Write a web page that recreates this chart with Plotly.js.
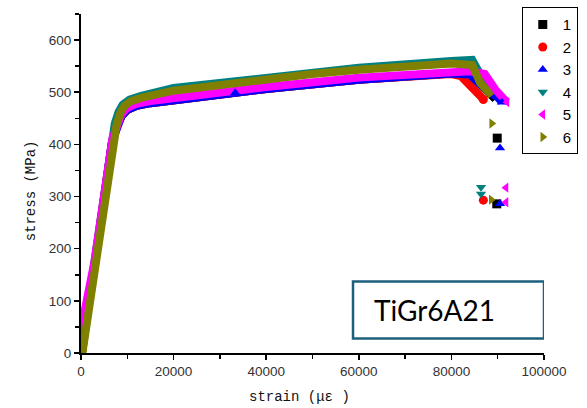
<!DOCTYPE html>
<html>
<head>
<meta charset="utf-8">
<script src="https://cdn.plot.ly/plotly-3.0.1.min.js"></script>
<style>html,body{margin:0;padding:0;background:#fff;}#chart{width:587px;height:408px;}</style>
</head>
<body>
<div id="chart"></div>
<script>
// Series names, colours and symbols
const seriesNames = ["1", "2", "3", "4", "5", "6"];
const seriesColors = ["#000000", "#ff0000", "#0000ff", "#008080", "#ff00ff", "#808000"];
const seriesSymbols = ["square", "circle", "triangle-up", "triangle-down", "triangle-left", "triangle-right"];

// Dense curve data (strain in με, stress in MPa)
const strain1 = [200, 2700, 6700, 7900, 8800, 10000, 12000, 15000, 20000, 40000, 60000, 80000, 84000, 87500, 89500];
const stress1 = [0, 150, 405, 438, 455, 466, 474, 479, 485, 506, 524, 536, 534, 505, 487];
const strain2 = [200, 2700, 6700, 7900, 8800, 10000, 12000, 15000, 20000, 40000, 60000, 80000, 82000, 84500, 86000, 86900];
const stress2 = [0, 150, 405, 438, 455, 466, 474, 479, 485, 506, 524, 535, 531, 505, 495, 486];
const strain3 = [0, 2700, 6700, 7900, 8800, 10000, 12000, 15000, 20000, 40000, 60000, 80000, 84000, 87500, 90000, 90900];
const stress3 = [20, 152, 405, 438, 455, 466, 474, 479, 485, 506, 524, 536, 534, 505, 490, 481];
const strain4 = [0, 2500, 6400, 7300, 8100, 9000, 10500, 13000, 20000, 40000, 60000, 80000, 84500, 86500, 87500];
const stress4 = [0, 150, 400, 440, 462, 476, 486, 493, 508, 528, 547, 560, 562, 530, 505];
const strain5 = [0, 2900, 6750, 7900, 8800, 10000, 12000, 15000, 20000, 40000, 60000, 80000, 84000, 87200, 89500, 92000];
const stress5 = [45, 175, 410, 442, 459, 470, 478, 483, 489, 510, 528, 539, 540, 535, 505, 481];
const strain6 = [300, 2800, 6700, 7700, 8500, 9400, 10800, 13000, 20000, 30000, 40000, 50000, 60000, 70000, 80000, 84500, 86200, 88300];
const stress6 = [0, 150, 400, 438, 460, 474, 483, 489, 503, 514, 524, 535, 543, 549, 555, 552, 518, 497];

// Isolated (fracture) points
const ptStrain1 = [89900, 89800];
const ptStress1 = [412, 286];
const ptStrain2 = [86900, 86900];
const ptStress2 = [486, 293];
const ptStrain3 = [90500, 90500, 33300, 90900];
const ptStress3 = [393, 286, 499, 481];
const ptStrain4 = [86400, 86400];
const ptStress4 = [318, 305];
const ptStrain5 = [91800, 91800, 92000];
const ptStress5 = [317, 289, 481];
const ptStrain6 = [88700, 88600, 88300];
const ptStress6 = [440, 294, 497];

// Axis ticks
const xTickVals = [0, 20000, 40000, 60000, 80000, 100000];
const xTickText = ["0", "20000", "40000", "60000", "80000", "100000"];
const yTickVals = [0, 100, 200, 300, 400, 500, 600];
const yTickText = ["0", "100", "200", "300", "400", "500", "600"];

const labelText = "TiGr6A21";
const xTitle = "strain (με )";
const yTitle = "stress (MPa)";

const curveX = [strain1, strain2, strain3, strain4, strain5, strain6];
const curveY = [stress1, stress2, stress3, stress4, stress5, stress6];
const ptX = [ptStrain1, ptStrain2, ptStrain3, ptStrain4, ptStrain5, ptStrain6];
const ptY = [ptStress1, ptStress2, ptStress3, ptStress4, ptStress5, ptStress6];

const traces = [];
for (let i = 0; i < 6; i++) {
  traces.push({
    x: curveX[i], y: curveY[i], type: "scatter", mode: "lines",
    line: {color: seriesColors[i], width: 8},
    showlegend: false, hoverinfo: "skip", legendgroup: "g" + i
  });
}
for (let i = 0; i < 6; i++) {
  traces.push({
    x: ptX[i], y: ptY[i], type: "scatter", mode: "markers", name: seriesNames[i],
    marker: {color: seriesColors[i], symbol: seriesSymbols[i], size: 9},
    legendgroup: "g" + i
  });
}

const axisFont = {family: "Liberation Sans, Arial, sans-serif", size: 13.5, color: "#333"};

const layout = {
  width: 587, height: 408,
  margin: {l: 81, r: 43, t: 7, b: 55},
  paper_bgcolor: "#fff", plot_bgcolor: "#fff",
  xaxis: {
    range: [0, 100000], tickvals: xTickVals, ticktext: xTickText,
    showgrid: false, zeroline: false, showline: true, linecolor: "#000", linewidth: 2,
    ticks: "outside", ticklen: 5, tickwidth: 1.5, tickcolor: "#000", tickfont: axisFont,
    minor: {dtick: 10000, tick0: 0, ticks: "outside", ticklen: 4, tickwidth: 1.5, tickcolor: "#000", showgrid: false}
  },
  yaxis: {
    range: [0, 650], tickvals: yTickVals, ticktext: yTickText,
    showgrid: false, zeroline: false, showline: true, linecolor: "#000", linewidth: 2,
    ticks: "outside", ticklen: 5, tickwidth: 1.5, tickcolor: "#000", tickfont: axisFont,
    minor: {dtick: 50, tick0: 0, ticks: "outside", ticklen: 4, tickwidth: 1.5, tickcolor: "#000", showgrid: false}
  },
  legend: {
    x: 0.952, y: 1.02, xanchor: "left", yanchor: "top",
    bordercolor: "#000", borderwidth: 1, bgcolor: "#fff",
    font: {family: "Liberation Sans, Arial, sans-serif", size: 15, color: "#000"},
    itemwidth: 30, tracegroupgap: 0
  },
  shapes: [{
    type: "rect", xref: "x", yref: "y", x0: 58750, x1: 100000, y0: 28, y1: 137,
    line: {color: "#1d5f7c", width: 2.5}, fillcolor: "rgba(0,0,0,0)"
  }],
  annotations: [
    {text: labelText, xref: "x", yref: "y", x: 62800, y: 82, xanchor: "left", yanchor: "middle",
     showarrow: false, font: {family: "Lato, Open Sans, sans-serif", size: 28, color: "#000"}},
    {text: xTitle, xref: "paper", yref: "paper", x: (299 - 81) / 463, y: -45 / 346, xanchor: "center", yanchor: "middle",
     showarrow: false, font: {family: "Liberation Mono, DejaVu Sans Mono, monospace", size: 14, color: "#111"}},
    {text: yTitle, xref: "paper", yref: "paper", x: (31 - 81) / 463, y: (353 - 188) / 346, xanchor: "center", yanchor: "middle",
     textangle: -90, showarrow: false, font: {family: "Liberation Mono, DejaVu Sans Mono, monospace", size: 14, color: "#111"}}
  ]
};

Plotly.newPlot("chart", traces, layout, {displayModeBar: false, staticPlot: true});
</script>
</body>
</html>
